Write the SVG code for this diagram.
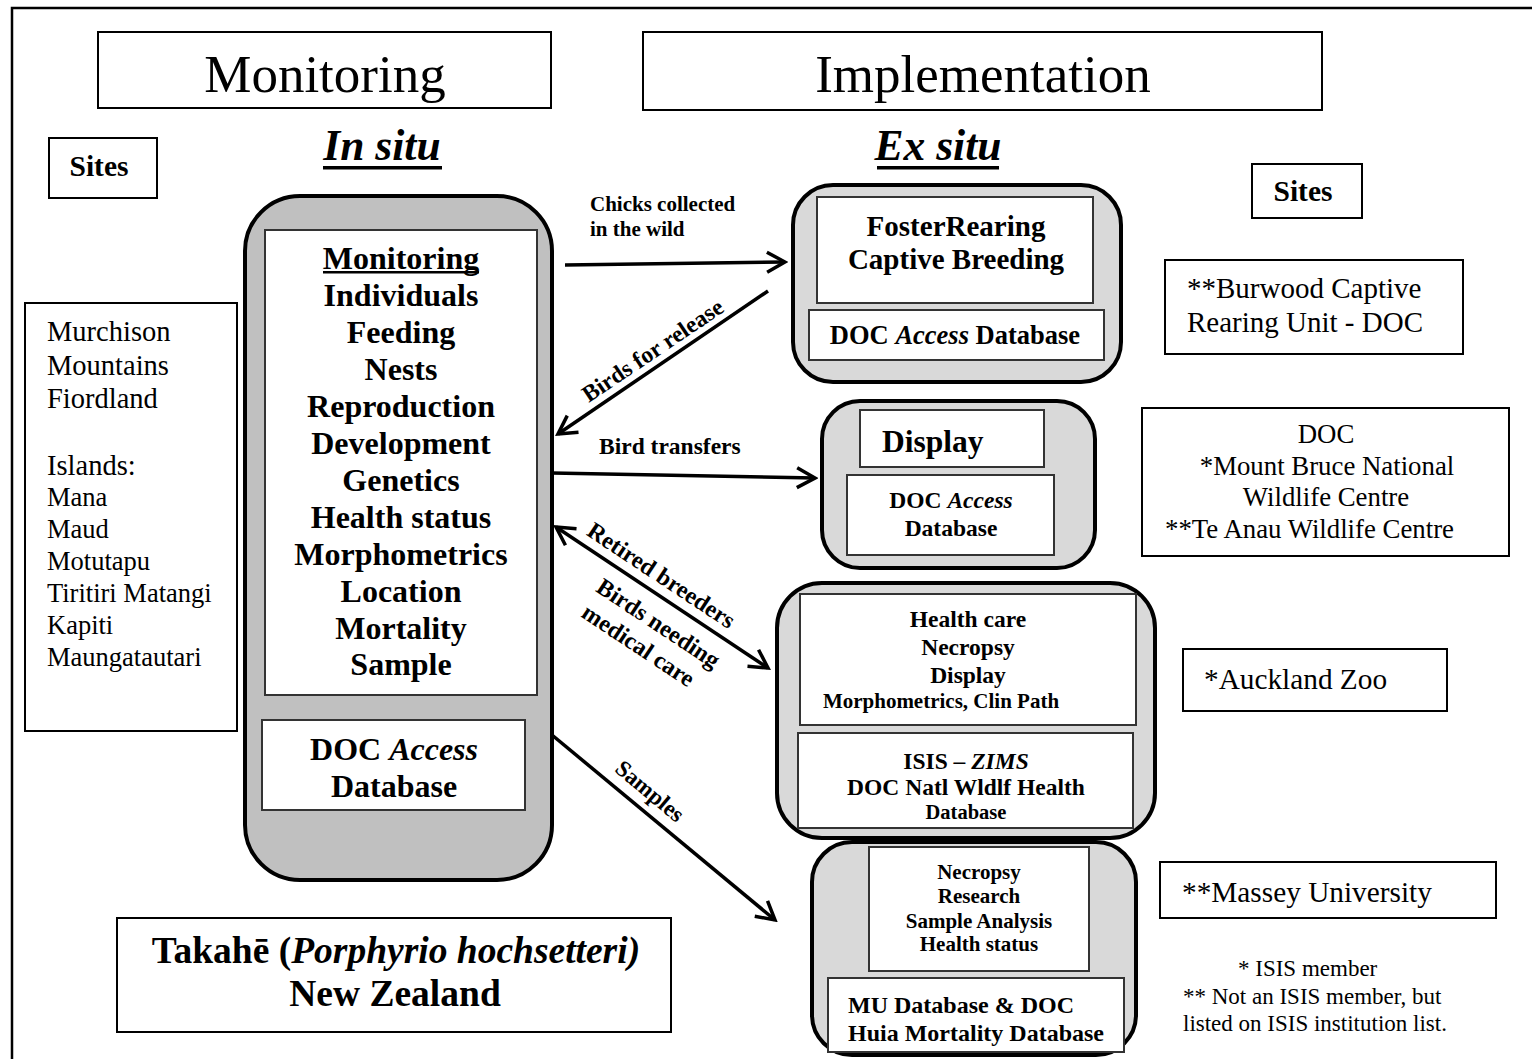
<svg xmlns="http://www.w3.org/2000/svg" width="1532" height="1059" viewBox="0 0 1532 1059">
<defs>
<style>
text{font-family:"Liberation Serif","Times New Roman",serif;fill:#000}
.b{font-weight:bold}
.i{font-style:italic}
.c{text-anchor:middle}
.box{fill:#fff;stroke:#000;stroke-width:2}
.ibox{fill:#fff;stroke:#333;stroke-width:2}
.gl{fill:#c0c0c0;stroke:#000;stroke-width:4}
.gr{fill:#d9d9d9;stroke:#000;stroke-width:4}
.ln{stroke:#000;stroke-width:3.5;fill:none}
</style>
<marker id="ah" markerUnits="userSpaceOnUse" markerWidth="26" markerHeight="26" viewBox="0 0 26 26" refX="23" refY="13" orient="auto-start-reverse">
<path d="M5,3 L23,13 L5,23" fill="none" stroke="#000" stroke-width="3.5"/>
</marker>
</defs>
<rect x="0" y="0" width="1532" height="1059" fill="#fff"/>
<rect x="12" y="8" width="1600" height="1200" fill="none" stroke="#000" stroke-width="2.5"/>

<g id="hdr-monitoring">
<rect class="box" x="98" y="32" width="453" height="76"/>
<text class="c" x="325" y="92" font-size="53">Monitoring</text>
</g>
<g id="hdr-implementation">
<rect class="box" x="643" y="32" width="679" height="78"/>
<text class="c" x="983" y="92" font-size="53">Implementation</text>
</g>
<g id="insitu">
<text class="b i c" x="382" y="160" font-size="43.5">In situ</text>
<rect x="323" y="166" width="119" height="3.5" fill="#000"/>
</g>
<g id="exsitu">
<text class="b i c" x="938" y="160" font-size="43.5">Ex situ</text>
<rect x="877" y="166" width="122" height="3.5" fill="#000"/>
</g>
<g id="sites-left">
<rect class="box" x="49" y="138" width="108" height="60"/>
<text class="b c" x="99" y="176" font-size="29.5">Sites</text>
</g>
<g id="sites-right">
<rect class="box" x="1252" y="164" width="110" height="54"/>
<text class="b c" x="1303" y="201" font-size="29.5">Sites</text>
</g>

<g id="site-list">
<rect class="box" x="25" y="303" width="212" height="428"/>
<text x="47" y="341" font-size="28.5">Murchison</text>
<text x="47" y="375" font-size="28.5">Mountains</text>
<text x="47" y="408" font-size="28.5">Fiordland</text>
<text x="47" y="475" font-size="28.5">Islands:</text>
<text x="47" y="506" font-size="26.5">Mana</text>
<text x="47" y="538" font-size="26.5">Maud</text>
<text x="47" y="570" font-size="26.5">Motutapu</text>
<text x="47" y="602" font-size="26.5">Tiritiri Matangi</text>
<text x="47" y="634" font-size="26.5">Kapiti</text>
<text x="47" y="666" font-size="26.5">Maungatautari</text>
</g>

<g id="insitu-node">
<rect class="gl" x="245" y="196" width="307" height="684" rx="55"/>
<rect class="ibox" x="265" y="230" width="272" height="465"/>
<g font-size="32">
<text class="b c" x="401" y="269">Monitoring</text>
<text class="b c" x="401" y="306">Individuals</text>
<text class="b c" x="401" y="343">Feeding</text>
<text class="b c" x="401" y="380">Nests</text>
<text class="b c" x="401" y="417">Reproduction</text>
<text class="b c" x="401" y="454">Development</text>
<text class="b c" x="401" y="491">Genetics</text>
<text class="b c" x="401" y="528">Health status</text>
<text class="b c" x="401" y="565">Morphometrics</text>
<text class="b c" x="401" y="602">Location</text>
<text class="b c" x="401" y="639">Mortality</text>
<text class="b c" x="401" y="675">Sample</text>
</g>
<rect x="323" y="271" width="156" height="2.5" fill="#000"/>
<rect class="ibox" x="262" y="720" width="263" height="90"/>
<text class="b c" x="394" y="760" font-size="32">DOC <tspan class="i">Access</tspan></text>
<text class="b c" x="394" y="797" font-size="32">Database</text>
</g>

<g id="foster-node">
<rect class="gr" x="793" y="185" width="328" height="197" rx="40"/>
<rect class="ibox" x="817" y="197" width="276" height="106"/>
<text class="b c" x="956" y="236" font-size="29">FosterRearing</text>
<text class="b c" x="956" y="269" font-size="29">Captive Breeding</text>
<rect class="ibox" x="809" y="310" width="295" height="50"/>
<text class="b c" x="955" y="344" font-size="26.5">DOC <tspan class="i">Access</tspan> Database</text>
</g>

<g id="display-node">
<rect class="gr" x="822" y="401" width="273" height="167" rx="38"/>
<rect class="ibox" x="860" y="410" width="184" height="57"/>
<text class="b" x="882" y="452" font-size="31.5">Display</text>
<rect class="ibox" x="847" y="475" width="207" height="80"/>
<text class="b c" x="951" y="508" font-size="23.5">DOC <tspan class="i">Access</tspan></text>
<text class="b c" x="951" y="536" font-size="23.5">Database</text>
</g>

<g id="health-node">
<rect class="gr" x="777" y="583" width="378" height="255" rx="45"/>
<rect class="ibox" x="800" y="594" width="336" height="131"/>
<text class="b c" x="968" y="627" font-size="23.5">Health care</text>
<text class="b c" x="968" y="655" font-size="23.5">Necropsy</text>
<text class="b c" x="968" y="683" font-size="23.5">Display</text>
<text class="b c" x="941" y="708" font-size="21">Morphometrics, Clin Path</text>
<rect class="ibox" x="798" y="733" width="335" height="95"/>
<text class="b c" x="966" y="769" font-size="23.5">ISIS – <tspan class="i">ZIMS</tspan></text>
<text class="b c" x="966" y="795" font-size="23.5">DOC Natl Wldlf Health</text>
<text class="b c" x="966" y="819" font-size="20.5">Database</text>
</g>

<g id="massey-node">
<rect class="gr" x="812" y="842" width="324" height="213" rx="40"/>
<rect class="ibox" x="869" y="847" width="220" height="124"/>
<text class="b c" x="979" y="879" font-size="21">Necropsy</text>
<text class="b c" x="979" y="903" font-size="21">Research</text>
<text class="b c" x="979" y="928" font-size="21">Sample Analysis</text>
<text class="b c" x="979" y="951" font-size="21">Health status</text>
<rect class="ibox" x="828" y="978" width="296" height="74"/>
<text class="b" x="848" y="1013" font-size="24">MU Database &amp; DOC</text>
<text class="b" x="848" y="1041" font-size="24">Huia Mortality Database</text>
</g>

<g id="site-burwood">
<rect class="box" x="1165" y="260" width="298" height="94"/>
<text x="1187" y="298" font-size="29">**Burwood Captive</text>
<text x="1187" y="332" font-size="29">Rearing Unit - DOC</text>
</g>
<g id="site-doc">
<rect class="box" x="1142" y="408" width="367" height="148"/>
<text class="c" x="1326" y="443" font-size="26.8">DOC</text>
<text class="c" x="1327" y="475" font-size="26.8">*Mount Bruce National</text>
<text class="c" x="1326" y="506" font-size="26.8">Wildlife Centre</text>
<text x="1165" y="538" font-size="26.8">**Te Anau Wildlife Centre</text>
</g>
<g id="site-auckland">
<rect class="box" x="1183" y="649" width="264" height="62"/>
<text x="1204" y="689" font-size="29.3">*Auckland Zoo</text>
</g>
<g id="site-massey">
<rect class="box" x="1160" y="862" width="336" height="56"/>
<text x="1182" y="902" font-size="29.3">**Massey University</text>
</g>
<g id="footnote">
<text x="1238" y="976" font-size="23">* ISIS member</text>
<text x="1183" y="1004" font-size="23">** Not an ISIS member, but</text>
<text x="1183" y="1031" font-size="23">listed on ISIS institution list.</text>
</g>

<g id="takahe">
<rect class="box" x="117" y="918" width="554" height="114"/>
<text class="b c" x="396" y="963" font-size="37.5">Takahē (<tspan class="i">Porphyrio hochsetteri)</tspan></text>
<text class="b c" x="395" y="1006" font-size="37.5">New Zealand</text>
</g>

<g id="connectors">
<line class="ln" x1="565" y1="265" x2="785" y2="262" marker-end="url(#ah)"/>
<line class="ln" x1="768" y1="291" x2="558" y2="434" marker-end="url(#ah)"/>
<line class="ln" x1="552" y1="473" x2="815" y2="478" marker-end="url(#ah)"/>
<line class="ln" x1="556" y1="527" x2="768" y2="668" marker-start="url(#ah)" marker-end="url(#ah)"/>
<line class="ln" x1="552" y1="735" x2="775" y2="920" marker-end="url(#ah)"/>
<text class="b" x="590" y="211" font-size="21">Chicks  collected</text>
<text class="b" x="590" y="236" font-size="21">in the wild</text>
<text class="b" x="599" y="454" font-size="23.5">Bird transfers</text>
<text class="b c" font-size="23.5" transform="translate(657,357) rotate(-34)">Birds for release</text>
<text class="b c" font-size="24" transform="translate(657,582) rotate(33.5)">Retired breeders</text>
<text class="b c" font-size="24" transform="translate(654,630) rotate(33.5)">Birds needing</text>
<text class="b c" font-size="24" transform="translate(634,652) rotate(33.5)">medical care</text>
<text class="b c" font-size="23" transform="translate(645,797) rotate(40)">Samples</text>
</g>
</svg>
